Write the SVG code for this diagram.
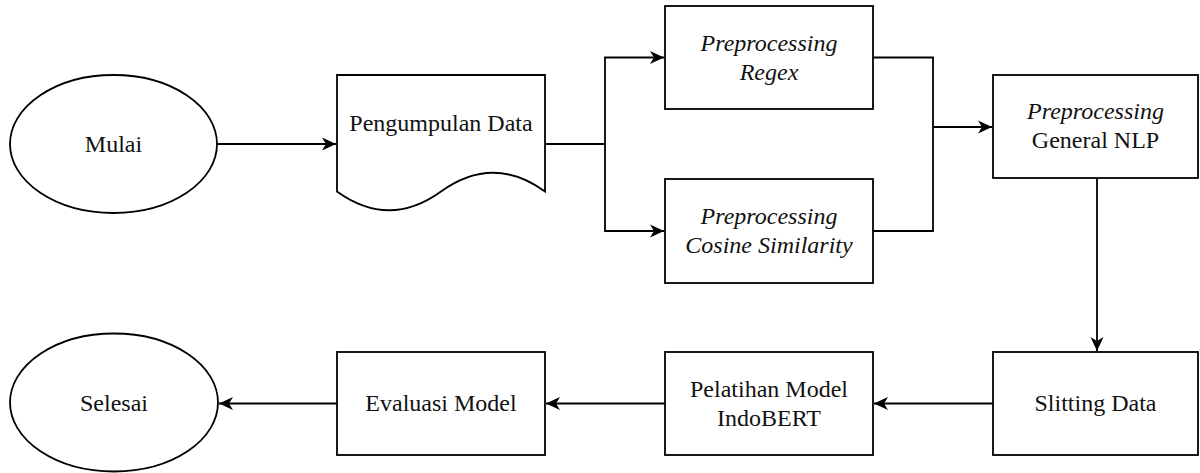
<svg xmlns="http://www.w3.org/2000/svg" width="1200" height="473" viewBox="0 0 1200 473">
<defs>
<style>
.shape{fill:#fff;stroke:#000;stroke-width:1.8}
.conn{fill:none;stroke:#000;stroke-width:1.8}
.lbl{font-family:'Liberation Serif','Times New Roman','DejaVu Serif',serif;font-size:24px;fill:#111;text-anchor:middle}
.it{font-style:italic}
</style>
<marker id="arr" markerUnits="userSpaceOnUse" markerWidth="16" markerHeight="14" viewBox="0 -7 16 14" refX="14" refY="0" orient="auto">
<path d="M0,-6.5 L14,0 L0,6.5 L4,0 Z" fill="#000"/>
</marker>
</defs>
<rect width="1200" height="473" fill="#fff"/>
<g id="connectors">
<path class="conn" d="M217,144 H336" marker-end="url(#arr)"/>
<path class="conn" d="M545,144 H605 V57.5 H664" marker-end="url(#arr)"/>
<path class="conn" d="M605,144 V231 H664" marker-end="url(#arr)"/>
<path class="conn" d="M873,57.5 H933 V231 H873"/>
<path class="conn" d="M933,127 H992" marker-end="url(#arr)"/>
<path class="conn" d="M1097,178 V351" marker-end="url(#arr)"/>
<path class="conn" d="M993,403.5 H874" marker-end="url(#arr)"/>
<path class="conn" d="M665,403.5 H546" marker-end="url(#arr)"/>
<path class="conn" d="M337,403.5 H219" marker-end="url(#arr)"/>
</g>
<g id="mulai">
<ellipse class="shape" cx="113.5" cy="144" rx="103.5" ry="69"/>
<text class="lbl" font-family="Liberation Serif, serif" x="113.5" y="152">Mulai</text>
</g>
<g id="pengumpulan">
<path class="shape" d="M337,75 H545 V191.5 Q493,154 441,191.5 Q389,229 337,191.5 Z"/>
<text class="lbl" font-family="Liberation Serif, serif" x="441" y="131">Pengumpulan Data</text>
</g>
<g id="regex">
<rect class="shape" x="665" y="6" width="208" height="103"/>
<text class="lbl it" font-family="Liberation Serif, serif" x="769" y="51">Preprocessing</text>
<text class="lbl it" font-family="Liberation Serif, serif" x="769" y="80">Regex</text>
</g>
<g id="cosine">
<rect class="shape" x="665" y="179" width="208" height="104"/>
<text class="lbl it" font-family="Liberation Serif, serif" x="769" y="224">Preprocessing</text>
<text class="lbl it" font-family="Liberation Serif, serif" x="769" y="253">Cosine Similarity</text>
</g>
<g id="general">
<rect class="shape" x="993" y="75" width="205" height="103"/>
<text class="lbl it" font-family="Liberation Serif, serif" x="1095.5" y="119">Preprocessing</text>
<text class="lbl" font-family="Liberation Serif, serif" x="1095.5" y="148">General NLP</text>
</g>
<g id="slitting">
<rect class="shape" x="993" y="352" width="205" height="103"/>
<text class="lbl" font-family="Liberation Serif, serif" x="1095.5" y="411">Slitting Data</text>
</g>
<g id="pelatihan">
<rect class="shape" x="665" y="352" width="208" height="103"/>
<text class="lbl" font-family="Liberation Serif, serif" x="769" y="397">Pelatihan Model</text>
<text class="lbl" font-family="Liberation Serif, serif" x="769" y="426">IndoBERT</text>
</g>
<g id="evaluasi">
<rect class="shape" x="337" y="352" width="208" height="103"/>
<text class="lbl" font-family="Liberation Serif, serif" x="441" y="411">Evaluasi Model</text>
</g>
<g id="selesai">
<ellipse class="shape" cx="114" cy="402.5" rx="104" ry="69"/>
<text class="lbl" font-family="Liberation Serif, serif" x="114" y="410.5">Selesai</text>
</g>
</svg>
